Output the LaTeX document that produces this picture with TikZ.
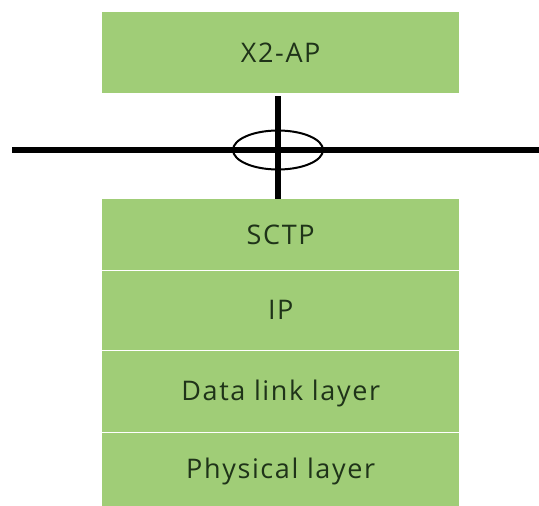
\documentclass[tikz,border=0pt]{standalone}
\usepackage{fontspec}
\setmainfont{Open Sans}
\newfontfamily\layerfont[LetterSpace=6]{Open Sans}
\usetikzlibrary{shapes.geometric}
\definecolor{layergreen}{HTML}{A0CD77}
\definecolor{labelink}{HTML}{1F3319}
\begin{document}
\begin{tikzpicture}[x=1pt,y=-1pt,
  layer/.style={fill=layergreen, minimum width=357pt, inner sep=0pt,
    anchor=north west, text=labelink, text height=19.3pt, text depth=0pt,
    font=\layerfont\fontsize{27}{31}\selectfont},
  divider/.style={white, line width=1.6pt},
  wire/.style={black, line width=6.5pt},
  bundle/.style={ellipse, draw=black, line width=2pt, minimum width=90pt,
    minimum height=39pt, inner sep=0pt}]
  \useasboundingbox (0,0) rectangle (539,506);

  % upper stack: application protocol
  \node[layer, minimum height=81pt] (x2ap) at (102,12) {X2-AP};

  % lower stack: transport and below
  \node[layer, minimum height=71pt] (sctp) at (102,199) {SCTP};
  \node[layer, minimum height=80pt] (ip)   at (102,270) {IP};
  \node[layer, minimum height=82pt] (dll)  at (102,350) {Data link layer};
  \node[layer, minimum height=74pt] (phy)  at (102,432) {Physical layer};

  \draw[divider] (sctp.south west) -- (sctp.south east);
  \draw[divider] (ip.south west) -- (ip.south east);
  \draw[divider] (dll.south west) -- (dll.south east);

  % interface line and the link crossing it
  \coordinate (mast) at (278,0);
  \coordinate (busL) at (12,150);
  \coordinate (busR) at (539,150);
  \draw[wire] (busL) -- (busR);
  \draw[wire, shorten <=3pt] (x2ap.south -| mast) -- (sctp.north -| mast);
  \node[bundle] (ring) at (busL -| mast) {};
\end{tikzpicture}
\end{document}
